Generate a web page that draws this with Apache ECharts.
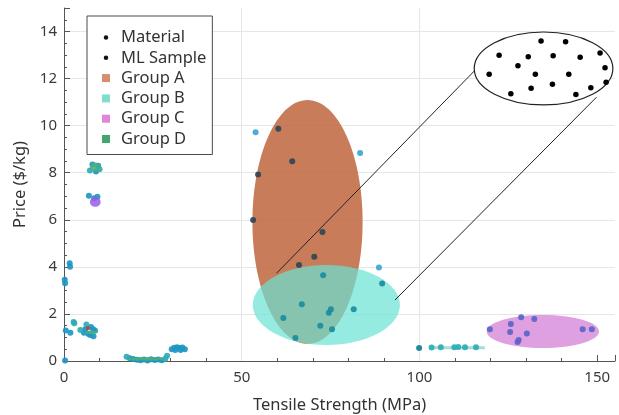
<!DOCTYPE html>
<html><head><meta charset="utf-8">
<script src="https://cdn.jsdelivr.net/npm/echarts@6/dist/echarts.min.js"></script>
<style>html,body{margin:0;padding:0;background:#fff}#c{width:619px;height:415px}</style>
</head><body><div id="c"></div>
<script>
// ---------- data (x = tensile strength MPa, y = price $/kg) ----------
const xAxisName = 'Tensile Strength (MPa)';
const yAxisName = 'Price ($/kg)';
const legendNames = ['Material', 'ML Sample', 'Group A', 'Group B', 'Group C', 'Group D'];

// material points (left clusters)
const materialBlue = [
  [0.3,0.02],[0.2,3.45],[0.3,3.3],[1.6,4.15],[1.7,4.0],[0.5,1.3],[1.8,1.2],
  [5.6,1.2],[6.9,1.15],[7.6,1.45],[8.2,1.35],[8.3,1.05],[7.4,1.1],[6.0,1.35],[8.7,1.3],
  [7.0,7.02],[9.4,6.98],[8.5,6.92],[8.0,8.35],[9.6,8.3],[9.0,8.05],
  [18.5,0.12],[19.5,0.08],[20.5,0.05],[21.5,0.03],[22.5,0.06],[23.5,0.02],[24.5,0.07],
  [25.5,0.04],[26.5,0.06],[27.5,0.03],
  [30.3,0.5],[31.0,0.56],[31.8,0.58],[32.5,0.55],[33.3,0.57],[34.0,0.5],[31.3,0.47],[32.8,0.47]
];
const materialTeal = [
  [2.7,1.66],[2.9,1.6],[4.6,1.32],[6.3,1.55],[7.3,8.1],[10.0,8.15],[17.6,0.18],[28.5,0.1],[29.0,0.22],
  [103.4,0.57],[106.0,0.58],[109.8,0.58],[110.9,0.6],[112.8,0.58],[115.9,0.58]
];
const materialDark = [[99.9,0.55]];
const materialBar = [[103.0,0.56],[118.4,0.56]];

// ML sample points
const mlOutside = [[53.9,9.72],[83.3,8.84],[88.6,3.97]];
const mlInA = [[60.3,9.87],[64.2,8.49],[54.6,7.92],[53.2,5.99],[72.7,5.48],[70.4,4.43],[66.1,4.08]];
const mlInB = [[72.9,3.64],[89.5,3.29],[66.9,2.41],[81.5,2.2],[75.1,2.2],[74.5,2.05],[61.7,1.83],[72.1,1.5],[75.4,1.35],[65.1,0.98]];
const mlInC = [[119.8,1.35],[125.7,1.57],[128.6,1.86],[132.3,1.78],[125.5,1.23],[130.2,1.17],[127.9,0.89],[127.6,0.81],[145.9,1.35],[148.5,1.35]];

// group regions: [centerX, centerY, radiusX, radiusY] in data units
const groupA = [[68.5,5.91,15.5,5.18]];
const groupB = [[73.8,2.38,20.7,1.70]];
const groupC = [[134.7,1.25,15.8,0.70]];
const groupD = [[8.7,8.25,1.4,0.19],[7.7,1.22,1.8,0.08],[23.0,0.085,5.4,0.07]];
const groupASmall = [[6.7,1.40,0.6,0.09]];
const groupCSmall = [[8.8,6.76,1.5,0.21]];

// zoom inset
const insetRegion = [[134.9,12.43,19.5,1.55]];
const insetDots = [
  [134.2,13.6],[141.1,13.57],[122.4,12.99],[130.6,12.93],[137.6,12.97],[145.2,12.91],[150.8,13.09],
  [127.7,12.55],[132.6,12.18],[142.0,12.18],[152.2,12.46],[119.6,12.18],[152.5,11.84],[148.2,11.61],
  [144.0,11.32],[137.4,11.76],[131.4,11.59],[125.7,11.36]
];
const connector1 = [[59.8,3.73],[115.4,12.32]];
const connector2 = [[93.1,2.59],[149.8,11.21]];
const vGridAt = [50, 100];

// ---------- chart ----------
const FONT = "'Noto Sans', 'Open Sans', sans-serif";
const DOT = 'path://M0,0M10,10M2.2,5A2.8,2.8,0,1,0,7.8,5A2.8,2.8,0,1,0,2.2,5Z';
const SQ = 'path://M0,0H10V10H0Z';

function ellipseSeries(name, data, fill, opacity, z, stroke) {
  return {
    type: 'custom', name, z, data, silent: true, clip: false,
    encode: { x: 0, y: 1 },
    itemStyle: { color: fill },
    renderItem: function (params, api) {
      const c = api.coord([api.value(0), api.value(1)]);
      const s = api.size([api.value(2), api.value(3)]);
      const style = { fill: fill, opacity: opacity };
      if (stroke) { style.stroke = stroke; style.lineWidth = 1.2; }
      return { type: 'ellipse', shape: { cx: c[0], cy: c[1], rx: s[0], ry: s[1] }, style };
    }
  };
}
function scatter(name, data, color, size, z, opacity) {
  return { type: 'scatter', name, data, z, symbolSize: size, silent: true,
    itemStyle: { color, opacity: opacity == null ? 0.92 : opacity } };
}
function segment(name, data, color, width, z) {
  return { type: 'line', name, data, z, symbol: 'none', silent: true,
    lineStyle: { color, width }, itemStyle: { color } };
}

const legendColors = ['#111', '#111', '#d58e6e', '#84dccb', '#e383dc', '#46a56e'];
const chart = echarts.init(document.getElementById('c'), null, { renderer: 'canvas' });
chart.setOption({
  animation: false,
  backgroundColor: '#fff',
  textStyle: { fontFamily: FONT },
  grid: { left: 64, right: 4, top: 8, bottom: 54, outerBoundsMode: 'none', containLabel: false },
  legend: {
    orient: 'vertical', left: 87, top: 16, z: 20,
    padding: [13, 6, 7, 15], itemWidth: 20, itemHeight: 8, itemGap: 3.3,
    backgroundColor: '#fff', borderColor: '#4a4a4a', borderWidth: 1,
    selectedMode: false,
    textStyle: { fontFamily: FONT, fontSize: 16.5, color: '#333', lineHeight: 16 },
    data: legendNames.map((n, i) => ({ name: n, icon: i < 2 ? DOT : SQ,
      itemStyle: { color: legendColors[i], opacity: 1, borderWidth: 0 } }))
  },
  xAxis: {
    type: 'value', min: 0, max: 155, interval: 50,
    name: xAxisName, nameLocation: 'middle', nameGap: 36,
    nameTextStyle: { fontSize: 16.5, color: '#333', fontFamily: FONT },
    axisLine: { show: true, lineStyle: { color: '#555' } },
    axisTick: { show: true, inside: true, length: 6, lineStyle: { color: '#555' } },
    minorTick: { show: true, splitNumber: 5, length: 3, lineStyle: { color: '#555' } },
    axisLabel: { showMaxLabel: false, fontSize: 15, color: '#3a3a3a', margin: 9, fontFamily: FONT },
    splitLine: { show: false }
  },
  yAxis: {
    type: 'value', min: 0, max: 15, interval: 2,
    name: yAxisName, nameLocation: 'middle', nameGap: 33, nameRotate: 90,
    nameTextStyle: { fontSize: 16.5, color: '#333', fontFamily: FONT },
    axisLine: { show: true, lineStyle: { color: '#555' } },
    axisTick: { show: true, inside: true, length: 6, lineStyle: { color: '#555' } },
    minorTick: { show: true, splitNumber: 4, length: 3, lineStyle: { color: '#555' } },
    axisLabel: { showMaxLabel: false, fontSize: 15, color: '#3a3a3a', margin: 7, fontFamily: FONT },
    splitLine: { show: true, showMaxLine: false, lineStyle: { color: '#e6e6e6' } }
  },
  series: [
    { type: 'scatter', name: 'vgrid', data: [], z: 1, silent: true,
      markLine: { silent: true, symbol: ['none', 'none'], label: { show: false },
        lineStyle: { color: '#e6e6e6', width: 1, type: 'solid' },
        data: vGridAt.map(v => ({ xAxis: v })) } },
    ellipseSeries('Group A', groupA, '#be653c', 0.85, 2),
    ellipseSeries('Group B', groupB, '#69e2d4', 0.7, 3),
    ellipseSeries('Group C', groupC, '#d077d3', 0.7, 3),
    segment('bar', materialBar, '#a8dcd8', 3, 4),
    scatter('Material', materialBlue, '#1e96c3', 6, 5),
    scatter('matTeal', materialTeal, '#2aaeb6', 6, 5),
    scatter('matDark', materialDark, '#0f7f96', 6, 5),
    scatter('ML Sample', mlOutside, '#3ca5d2', 6, 5),
    scatter('mlA', mlInA, '#2d4655', 6, 5),
    scatter('mlB', mlInB, '#1a8ca0', 6, 5),
    scatter('mlC', mlInC, '#5a64c8', 6, 5),
    ellipseSeries('Group D', groupD, '#4cae78', 0.85, 6),
    ellipseSeries('smallA', groupASmall, '#b5473a', 0.9, 6),
    ellipseSeries('smallC', groupCSmall, '#9a5ae6', 0.85, 6),
    segment('conn1', connector1, '#222', 1, 7),
    segment('conn2', connector2, '#222', 1, 7),
    ellipseSeries('inset', insetRegion, '#ffffff', 1, 8, '#222'),
    scatter('insetDots', insetDots, '#000', 5.5, 9, 1)
  ]
});
</script></body></html>
